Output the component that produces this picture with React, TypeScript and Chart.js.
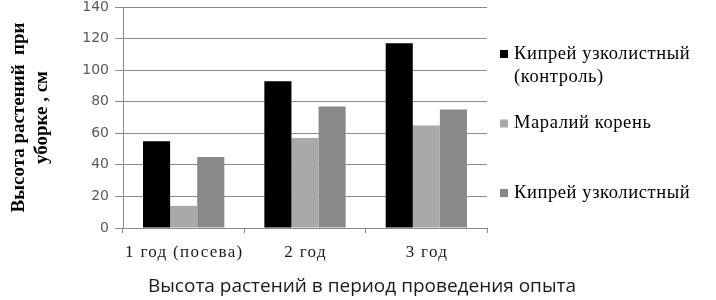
import React, { useEffect, useRef } from "react";
import { Chart, registerables } from "chart.js";
Chart.register(...registerables);

const categories = ["1 год (посева)", "2 год", "3 год"];
const seriesLabels: string[][] = [["Кипрей узколистный", "(контроль)"], ["Маралий корень"], ["Кипрей узколистный"]];
const controlValues = [55, 93, 117];
const maralValues = [14, 57, 65];
const kipreiValues = [45, 77, 75];
const seriesColors = ["#000000", "#a9a9a9", "#898989"];
const yTitle = ["Высота растений  при", "уборке , см"];
const xTitle = "Высота растений в период проведения опыта";

const textPlugin = {
  id: "extraText",
  afterDraw(chart: any) {
    const ctx = chart.ctx;
    ctx.save();
    // category labels
    const xs = chart.scales.x;
    ctx.fillStyle = "#1a1a1a";
    ctx.font = "17px 'Liberation Serif', serif";
    (ctx as any).letterSpacing = "1.3px";
    ctx.textAlign = "center";
    ctx.textBaseline = "alphabetic";
    chart.data.labels.forEach((lab: string, i: number) => {
      ctx.fillText(lab, xs.getPixelForTick(i) + 0.6, chart.chartArea.bottom + 29);
    });
    // legend
    const x0 = chart.chartArea.right + 13;
    chart.data.datasets.forEach((ds: any, i: number) => {
      const yc = 54 + 69.5 * i;
      ctx.fillStyle = ds.backgroundColor;
      ctx.fillRect(x0, yc - 4, 8, 8);
      ctx.fillStyle = "#000";
      ctx.font = "18.5px 'Liberation Serif', serif";
      (ctx as any).letterSpacing = "0.6px";
      ctx.textBaseline = "middle";
      ctx.textAlign = "left";
      const lines: string[] = ds.legendLines;
      lines.forEach((t, j) => ctx.fillText(t, x0 + 14, yc + j * 23));
    });
    // x title
    (ctx as any).letterSpacing = "0px";
    ctx.fillStyle = "#1a1a1a";
    ctx.font = "19px 'Open Sans', sans-serif";
    ctx.textAlign = "center";
    ctx.textBaseline = "alphabetic";
    ctx.fillText(xTitle, 362, 292);
    ctx.restore();
  },
};

export default function App() {
  const ref = useRef<HTMLCanvasElement>(null);
  useEffect(() => {
    const chart = new Chart(ref.current!, {
      type: "bar",
      data: {
        labels: categories,
        datasets: [controlValues, maralValues, kipreiValues].map((v, i) => ({
          label: seriesLabels[i].join(" "),
          legendLines: seriesLabels[i],
          data: v,
          backgroundColor: seriesColors[i],
          borderWidth: 0,
          categoryPercentage: 0.67,
          barPercentage: 1,
        })) as any,
      },
      options: {
        animation: false,
        responsive: true,
        maintainAspectRatio: false,
        layout: { padding: { left: 0, right: 229, top: 7, bottom: 36 } },
        plugins: {
          legend: { display: false },
          tooltip: { enabled: false },
          title: { display: false },
        },
        scales: {
          x: {
            grid: { display: true, drawOnChartArea: false, tickLength: 5, color: "#8a8a8a", offset: true },
            border: { color: "#8a8a8a" },
            ticks: { display: false },
            afterFit(s: any) { s.height = 36; s.paddingLeft = 0; s.paddingRight = 0; },
          },
          y: {
            min: 0,
            max: 140,
            grid: { color: "#8a8a8a", tickLength: 8 },
            border: { color: "#8a8a8a" },
            ticks: { stepSize: 20, color: "#5a5a5a", font: { family: "'DejaVu Sans', sans-serif", size: 14 }, padding: 6 },
            title: {
              display: true,
              text: yTitle,
              color: "#000",
              font: { family: "'Liberation Serif', serif", size: 19, weight: "bold", lineHeight: 1.24 },
              padding: { top: 7, bottom: 0 },
            },
            afterFit(s: any) { s.width = 123; s.paddingTop = 0; s.paddingBottom = 0; },
          },
        },
      },
      plugins: [textPlugin],
    } as any);
    return () => chart.destroy();
  }, []);
  return (
    <div style={{ position: "fixed", left: 0, top: 0, width: 716, height: 300, background: "#fff" }}>
      <canvas ref={ref} />
    </div>
  );
}
